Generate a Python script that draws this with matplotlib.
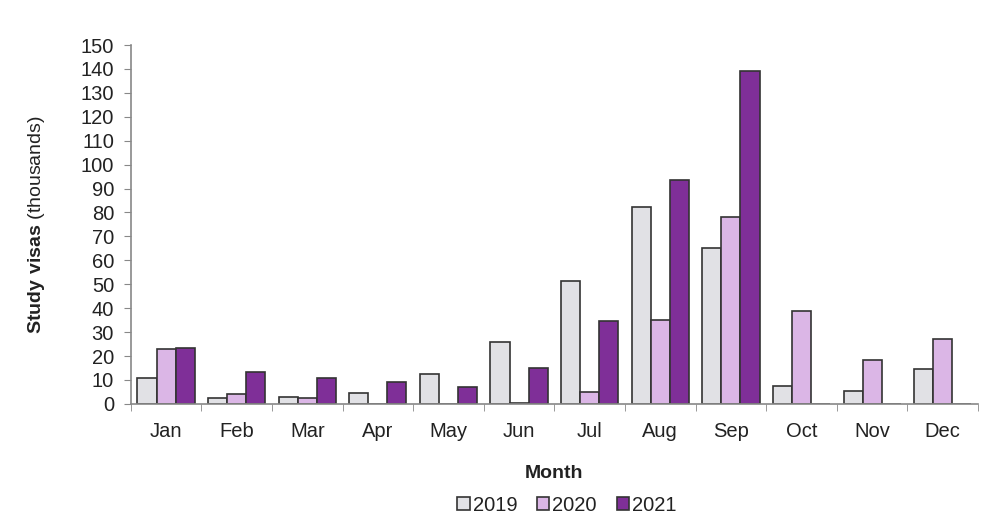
import numpy as np
import matplotlib.pyplot as plt
from matplotlib.ticker import MultipleLocator

months = ['Jan', 'Feb', 'Mar', 'Apr', 'May', 'Jun', 'Jul', 'Aug', 'Sep', 'Oct', 'Nov', 'Dec']
visas_2019 = [11, 2.5, 3, 4.5, 12.5, 26, 51.5, 82.5, 65, 7.5, 5.5, 14.5]
visas_2020 = [23, 4, 2.5, 0, 0, 0.5, 5, 35, 78, 39, 18.5, 27]
visas_2021 = [23.5, 13.5, 11, 9, 7, 15, 34.5, 93.5, 139, 0, 0, 0]
years = ['2019', '2020', '2021']

plt.rcParams['font.family'] = ['Liberation Sans', 'DejaVu Sans']
plt.rcParams['mathtext.fontset'] = 'custom'
plt.rcParams['mathtext.bf'] = 'Liberation Sans:bold'
plt.rcParams['mathtext.rm'] = 'Liberation Sans'

fig = plt.figure(figsize=(9.98, 5.30), dpi=100)
ax = fig.add_axes([0.131, 0.238, 0.849, 0.677])

colors = ['#e1e1e5', '#dbb6e6', '#7f2f98']
x = np.arange(len(months))
w = 0.27
series = [visas_2019, visas_2020, visas_2021]
for i, (vals, col, lab) in enumerate(zip(series, colors, years)):
    ax.bar(x + (i - 1) * w, vals, w, color=col, edgecolor='#333333', linewidth=1.2, label=lab)

ax.set_xlim(-0.5, 11.5)
ax.set_ylim(0, 150)
ax.yaxis.set_major_locator(MultipleLocator(10))
ax.set_xticks(x)
ax.set_xticklabels(months)
ax.set_xticks(np.arange(-0.5, 12, 1), minor=True)
ax.tick_params(axis='x', which='major', length=0, labelsize=14.5, colors='#222222', pad=13)
ax.tick_params(axis='x', which='minor', length=5, color='#888888')
ax.tick_params(axis='y', length=5, color='#888888', labelsize=14.5, labelcolor='#222222', pad=7)

for s in ['top', 'right']:
    ax.spines[s].set_visible(False)
for s in ['left', 'bottom']:
    ax.spines[s].set_color('#888888')
    ax.spines[s].set_linewidth(1.2)

ax.set_ylabel(r'$\bf{Study\ visas}$ (thousands)', fontsize=14, color='#222222', labelpad=24)
ax.set_xlabel('Month', fontsize=14, fontweight='bold', color='#222222', labelpad=17)

ax.legend(loc='upper center', bbox_to_anchor=(0.515, -0.205), ncol=3, frameon=False,
          fontsize=14.5, handlelength=0.6, handleheight=0.6, handletextpad=0.15, columnspacing=1.0,
          labelcolor='#222222')

fig.savefig('out.png', dpi=100)
